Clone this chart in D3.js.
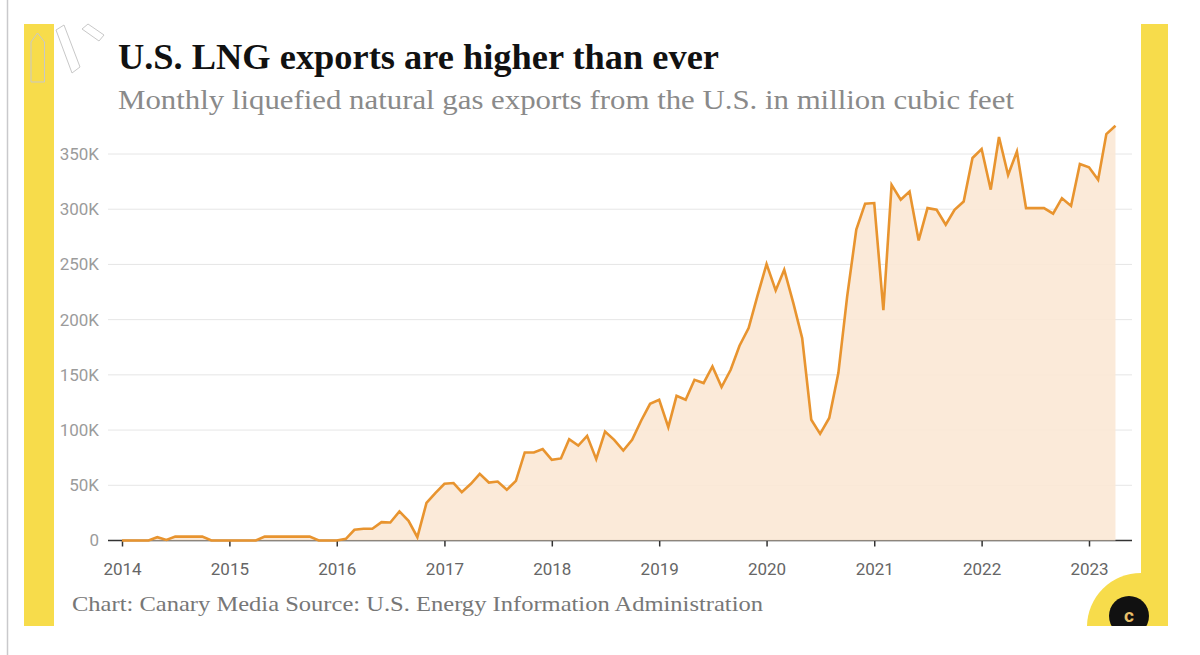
<!DOCTYPE html>
<html>
<head>
<meta charset="utf-8">
<script src="https://cdn.jsdelivr.net/npm/d3@7"></script>
<style>
  html, body { margin: 0; padding: 0; background: #fff; }
  svg { display: block; }
</style>
</head>
<body>
<svg id="chart" width="1200" height="655"></svg>
<script>
// ---- Data (million cubic feet, monthly) ----
const years = [2014, 2015, 2016, 2017, 2018, 2019, 2020, 2021, 2022, 2023];
const exports2014 = [0, 0, 0, 0, 3000, 500, 3500, 3500, 3500, 3500, 0, 0];
const exports2015 = [0, 0, 0, 0, 3500, 3500, 3500, 3500, 3500, 3500, 0, 0];
const exports2016 = [0, 1500, 9700, 10600, 10600, 16600, 16300, 26300, 17800, 3000, 34000, 43000];
const exports2017 = [51400, 52000, 43800, 51400, 60400, 52500, 53400, 45900, 54000, 79700, 79700, 82800];
const exports2018 = [73000, 74300, 91800, 86000, 94800, 73700, 98700, 91200, 81500, 91200, 108700, 123800];
const exports2019 = [127400, 102700, 131000, 127400, 145500, 142600, 157600, 139000, 154600, 176400, 192400, 221600];
const exports2020 = [250400, 226500, 245200, 215000, 183300, 109300, 96600, 111000, 151600, 221000, 281500, 305000];
const exports2021 = [305600, 208500, 322000, 308600, 316000, 271700, 301000, 299500, 286000, 299500, 307000, 346400];
const exports2022 = [354500, 317700, 365400, 331000, 352300, 301000, 301000, 301000, 296000, 310000, 303000, 341000];
const exports2023 = [338000, 326700, 368000, 375600];
const seriesByYear = [exports2014, exports2015, exports2016, exports2017, exports2018,
                      exports2019, exports2020, exports2021, exports2022, exports2023];
const yTickValues = [0, 50000, 100000, 150000, 200000, 250000, 300000, 350000];
const xTickLabels = ["2014", "2015", "2016", "2017", "2018", "2019", "2020", "2021", "2022", "2023"];

const titleText = "U.S. LNG exports are higher than ever";
const subtitleText = "Monthly liquefied natural gas exports from the U.S. in million cubic feet";
const footerText = "Chart: Canary Media Source: U.S. Energy Information Administration";

// Build table
const data = [];
seriesByYear.forEach((arr, yi) => {
  arr.forEach((v, m) => data.push({ date: new Date(years[yi], m, 1), value: v }));
});

const svg = d3.select("#chart");

// ---- Frame decorations ----
svg.append("line").attr("x1", 7.5).attr("x2", 7.5).attr("y1", 0).attr("y2", 655)
  .attr("stroke", "#c9c9cc").attr("stroke-width", 1.5);

const clip = svg.append("defs").append("clipPath").attr("id", "frameClip");
clip.append("rect").attr("x", 0).attr("y", 0).attr("width", 1200).attr("height", 626);

const deco = svg.append("g").attr("clip-path", "url(#frameClip)");
deco.append("rect").attr("x", 24).attr("y", 24).attr("width", 30).attr("height", 610).attr("fill", "#f7dc4b");
deco.append("rect").attr("x", 1141).attr("y", 24).attr("width", 27).attr("height", 610).attr("fill", "#f7dc4b");
// quarter disc bottom-right
deco.append("path")
  .attr("d", d3.arc()({ innerRadius: 0, outerRadius: 54, startAngle: -Math.PI / 2, endAngle: 0 }))
  .attr("transform", "translate(1141,627)").attr("fill", "#f7dc4b");
deco.append("circle").attr("cx", 1129).attr("cy", 616).attr("r", 20).attr("fill", "#111");
deco.append("text").attr("x", 1129).attr("y", 622).attr("text-anchor", "middle")
  .attr("font-family", "Roboto, sans-serif").attr("font-weight", 700).attr("font-size", 19)
  .attr("fill", "#e9c06a").text("c");

// faint logo rays top-left
const rays = svg.append("g").attr("fill", "none").attr("stroke", "#c8c8c8").attr("stroke-width", 1);
rays.append("path").attr("d", "M31,82 L31,42 L37.5,33 L44.5,42 L44.5,82 Z");
rays.append("path").attr("d", "M56,30 L64,25 L80,67 L72,73 Z");
rays.append("path").attr("d", "M82,29 L88,24 L104,35 L99,41 Z");

// ---- Titles ----
function fitText(sel, w) {
  sel.attr("textLength", w).attr("lengthAdjust", "spacingAndGlyphs");
}
const title = svg.append("text").attr("x", 118).attr("y", 69)
  .attr("font-family", "'Liberation Serif', 'DejaVu Serif', serif").attr("font-weight", 700)
  .attr("font-size", 36).attr("fill", "#111").text(titleText);
fitText(title, 601);
const sub = svg.append("text").attr("x", 118).attr("y", 109)
  .attr("font-family", "'Liberation Serif', 'DejaVu Serif', serif")
  .attr("font-size", 27).attr("fill", "#8a8a8a").text(subtitleText);
fitText(sub, 896);
const foot = svg.append("text").attr("x", 72).attr("y", 611)
  .attr("font-family", "'Liberation Serif', 'DejaVu Serif', serif")
  .attr("font-size", 22).attr("fill", "#777").text(footerText);
fitText(foot, 691);

// ---- Scales ----
const x = d3.scaleTime()
  .domain([new Date(2014, 0, 1), new Date(2023, 0, 1)])
  .range([122, 1089]);
const y = d3.scaleLinear().domain([0, 350000]).range([540.5, 154]);

const plotLeft = 108, plotRight = 1132;

// y labels + gridlines
const yAxis = d3.axisLeft(y).tickValues(yTickValues)
  .tickFormat(v => v === 0 ? "0" : (v / 1000) + "K")
  .tickSize(0).tickPadding(9);
const gy = svg.append("g").attr("transform", `translate(${plotLeft},0)`).call(yAxis);
gy.select(".domain").remove();
gy.selectAll("text").attr("font-family", "Roboto, sans-serif").attr("font-size", 17)
  .attr("fill", "#9b9b9b");
svg.append("g").selectAll("line").data(yTickValues.filter(v => v > 0)).join("line")
  .attr("x1", plotLeft).attr("x2", plotRight)
  .attr("y1", d => y(d)).attr("y2", d => y(d))
  .attr("stroke", "#e6e6e6").attr("stroke-width", 1);

// x axis
const xAxis = d3.axisBottom(x)
  .tickValues(xTickLabels.map(s => new Date(+s, 0, 1)))
  .tickFormat((d, i) => xTickLabels[i])
  .tickSize(6).tickSizeOuter(0).tickPadding(16);
const gx = svg.append("g").attr("transform", `translate(0,${y(0)})`).call(xAxis);
gx.select(".domain").remove();
gx.selectAll(".tick line").attr("stroke", "#333").attr("stroke-width", 1.5);
gx.selectAll("text").attr("font-family", "Roboto, sans-serif").attr("font-size", 17)
  .attr("fill", "#666");
svg.append("line").attr("x1", plotLeft).attr("x2", plotRight)
  .attr("y1", y(0)).attr("y2", y(0)).attr("stroke", "#333").attr("stroke-width", 1.5);

// area + line
const area = d3.area().x(d => x(d.date)).y0(y(0)).y1(d => y(d.value));
const line = d3.line().x(d => x(d.date)).y(d => y(d.value));
svg.append("path").datum(data).attr("d", area).attr("fill", "#fbe8d5").attr("fill-opacity", 0.9);
svg.append("path").datum(data).attr("d", line).attr("fill", "none")
  .attr("stroke", "#e8942f").attr("stroke-width", 2.6).attr("stroke-linejoin", "miter");
</script>
</body>
</html>
